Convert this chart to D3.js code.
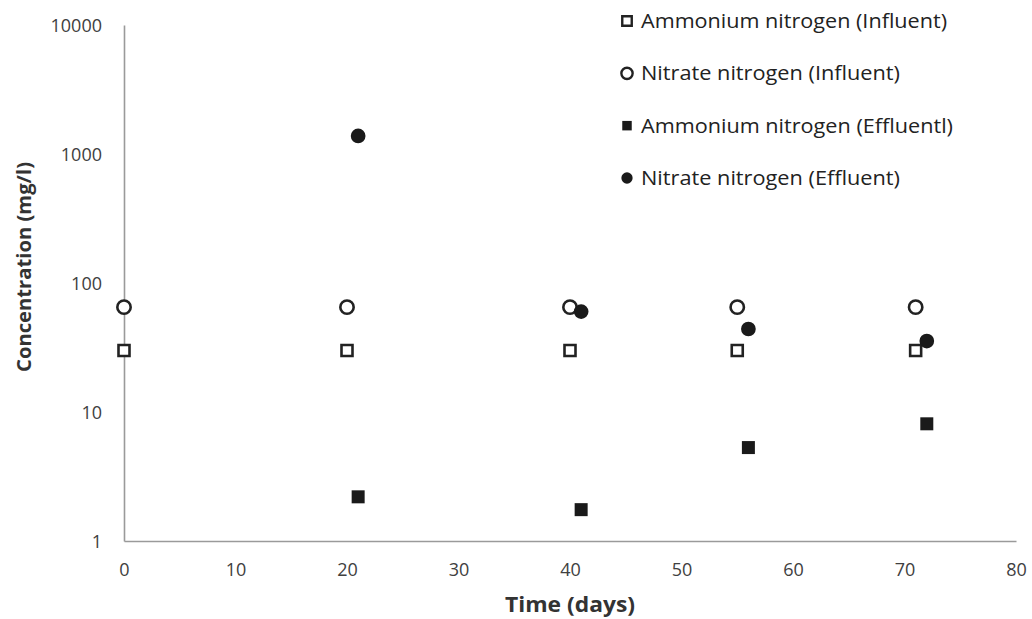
<!DOCTYPE html>
<html><head><meta charset="utf-8">
<script src="https://cdn.jsdelivr.net/npm/d3@7"></script>
<style>body{margin:0;background:#fff}svg{display:block}</style>
</head><body>
<svg id="chart" width="1032" height="619"></svg>
<script>
// Data
const influentDays = [0, 20, 40, 55, 71];
const ammoniumInfluent = [30, 30, 30, 30, 30];
const nitrateInfluent = [65, 65, 65, 65, 65];
const effluentDays = [21, 41, 56, 72];
const ammoniumEffluent = [2.2, 1.75, 5.3, 8.1];
const nitrateEffluent = [1380, 60, 44, 35.5];
const xTicks = [0, 10, 20, 30, 40, 50, 60, 70, 80];
const yTicks = [1, 10, 100, 1000, 10000];
const legendLabels = ["Ammonium nitrogen (Influent)", "Nitrate nitrogen (Influent)", "Ammonium nitrogen (Effluentl)", "Nitrate nitrogen (Effluent)"];

const svg = d3.select("#chart");
const font = "'Open Sans', Lato, sans-serif";
const x = d3.scaleLinear().domain([0, 80]).range([124, 1016]);
const y = d3.scaleLog().domain([1, 10000]).range([541, 25]);

const xAxis = d3.axisBottom(x).tickValues(xTicks).tickSize(0).tickPadding(22).tickFormat(d3.format("d"));
const yAxis = d3.axisLeft(y).tickValues(yTicks).tickSize(0).tickPadding(22).tickFormat(d3.format("d"));

const gx = svg.append("g").attr("transform", "translate(0,541)").call(xAxis);
const gy = svg.append("g").attr("transform", "translate(124,0)").call(yAxis);
[gx, gy].forEach(g => {
  g.select(".domain").attr("stroke", "#9a9a9a").attr("stroke-width", 1.6);
  g.selectAll("text").attr("fill", "#404040").style("font-family", font).style("font-size", "18px");
});
gy.selectAll("text").attr("dy", "0.35em");

// Axis titles
svg.append("text").attr("x", 570).attr("y", 612).attr("text-anchor", "middle")
  .attr("textLength", 130).attr("lengthAdjust", "spacingAndGlyphs")
  .style("font-family", font).style("font-weight", "bold").style("font-size", "21px").attr("fill", "#333")
  .text("Time (days)");
svg.append("text").attr("transform", "translate(31,267) rotate(-90)").attr("text-anchor", "middle")
  .attr("textLength", 210).attr("lengthAdjust", "spacingAndGlyphs")
  .style("font-family", font).style("font-weight", "bold").style("font-size", "20px").attr("fill", "#333")
  .text("Concentration (mg/l)");

const sq = d3.symbol().type(d3.symbolSquare);
const circ = d3.symbol().type(d3.symbolCircle);

// Influent ammonium: open squares
svg.append("g").selectAll("path").data(influentDays).join("path")
  .attr("transform", (d, i) => `translate(${x(d)},${y(ammoniumInfluent[i])})`)
  .attr("d", sq.size(121)()).attr("fill", "#fff").attr("stroke", "#222").attr("stroke-width", 2.6);
// Influent nitrate: open circles
svg.append("g").selectAll("path").data(influentDays).join("path")
  .attr("transform", (d, i) => `translate(${x(d)},${y(nitrateInfluent[i])})`)
  .attr("d", circ.size(140)()).attr("fill", "#fff").attr("stroke", "#222").attr("stroke-width", 2.6);
// Effluent ammonium: filled squares
svg.append("g").selectAll("path").data(effluentDays).join("path")
  .attr("transform", (d, i) => `translate(${x(d)},${y(ammoniumEffluent[i])})`)
  .attr("d", sq.size(169)()).attr("fill", "#1a1a1a");
// Effluent nitrate: filled circles
svg.append("g").selectAll("path").data(effluentDays).join("path")
  .attr("transform", (d, i) => `translate(${x(d)},${y(nitrateEffluent[i])})`)
  .attr("d", circ.size(170)()).attr("fill", "#1a1a1a");

// Legend
const legendWidths = [306, 259, 312, 259];
const legY = d3.scalePoint().domain(legendLabels).range([21, 178]);
const leg = svg.append("g");
legendLabels.forEach((lab, i) => {
  const cy = legY(lab);
  const open = i < 2;
  const shape = (i % 2 === 0) ? sq : circ;
  leg.append("path").attr("transform", `translate(627,${cy})`)
    .attr("d", shape.size(i % 2 === 0 ? 90 : 100)())
    .attr("fill", open ? "#fff" : "#1a1a1a").attr("stroke", open ? "#222" : "none").attr("stroke-width", 2.4);
  leg.append("text").attr("x", 641).attr("y", cy + 7)
    .attr("textLength", legendWidths[i]).attr("lengthAdjust", "spacingAndGlyphs")
    .style("font-family", font).style("font-size", "20px").attr("fill", "#222").text(lab);
});
</script>
</body></html>
